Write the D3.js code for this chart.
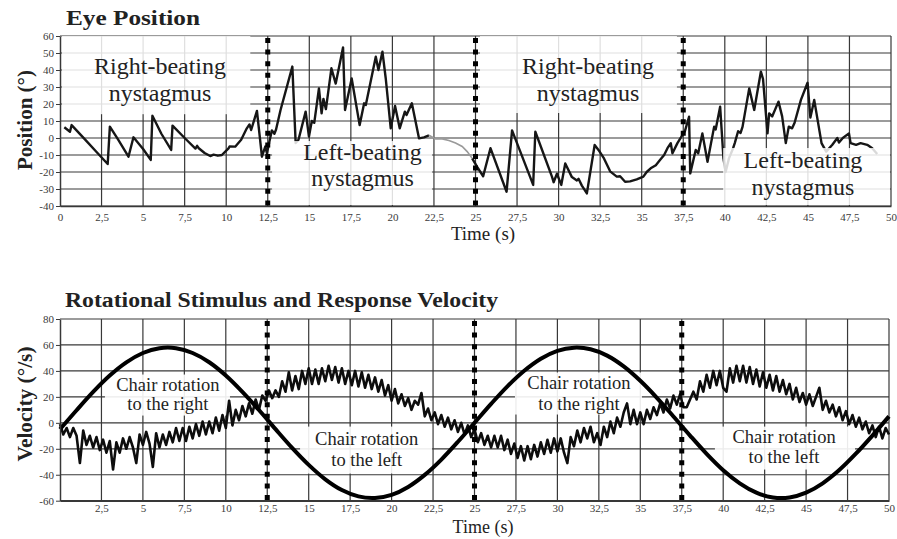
<!DOCTYPE html>
<html><head><meta charset="utf-8">
<script src="https://cdn.jsdelivr.net/npm/d3@7/dist/d3.min.js"></script>
<style>
body{margin:0;background:#fff}
svg{display:block}
text{font-family:"Liberation Serif","DejaVu Serif",serif}
</style>
</head><body>
<svg id="chart" width="897" height="539"></svg>
<script>
// ---------------- DATA ----------------
const timeTicks = [0,2.5,5,7.5,10,12.5,15,17.5,20,22.5,25,27.5,30,32.5,35,37.5,40,42.5,45,47.5,50];
const posTicks = [-40,-30,-20,-10,0,10,20,30,40,50,60];
const velTicks = [-60,-40,-20,0,20,40,60,80];
const phaseBoundaries = [12.5,25,37.5];

// Eye position trace (s, degrees); null = gap
const eyeTime = [0.26,0.6,0.7,1.5,2.2,2.87,3.0,3.5,4.12,4.42,5.0,5.46,5.56,6.1,6.69,6.77,7.5,8.15,8.25,8.35,8.7,9.04,9.24,9.5,9.74,10.14,10.2,10.54,10.9,11.24,11.4,11.5,11.85,12.15,12.35,12.45,12.6,12.75,12.9,13.0,13.27,13.98,14.18,14.35,14.78,14.98,15.15,15.3,15.58,15.74,15.85,16.0,16.33,16.59,17.03,17.15,17.55,18.03,18.3,18.4,19.0,19.16,19.4,19.6,19.9,20.16,20.44,20.75,20.85,21.17,21.6,21.9,22.2,23.5,24.8,25.1,25.46,25.9,26.87,27.2,28.47,28.6,29.6,29.7,29.9,30.16,30.4,30.8,31.1,31.2,31.4,31.7,32.17,32.4,32.73,33.1,33.5,33.7,34.0,34.3,34.7,35.1,35.3,35.54,35.85,36.1,36.35,36.55,36.75,36.85,37.15,37.4,37.6,37.85,37.92,38.25,38.4,38.65,38.96,39.36,39.45,39.72,39.92,40.05,40.25,40.5,40.6,40.8,40.95,41.07,41.47,41.77,42.17,42.3,42.57,42.67,42.85,43.23,43.45,43.67,43.85,44.05,44.2,44.58,44.98,45.15,45.38,45.82,46.1,46.47,46.77,46.87,47.1,47.47,47.57,47.9,48.17,48.57,48.87,49.17];
const eyePos  = [6.3,3.7,7.6,-0.8,-8.2,-15.3,6.7,-1,-11,0.4,-6.5,-12.9,13.1,2.5,-7,7.3,0,-6.2,-4.6,-6.0,-8.8,-10.6,-9.8,-10.4,-10,-6.1,-5,-5.1,-1,5.7,8,4.7,15.9,-11,-5,-9,-2,4.5,2.5,5,16.5,42,-3,-1,15.5,0.8,10,9,29.2,14.5,23,17,41,32,53.3,16.5,35,7.6,20.4,19.4,47.8,40,50.8,35,5.7,18.8,5.7,15.5,13.5,20.4,-0.2,0.4,1.6,null,-12,-17,-22.5,-6,-31.6,4.5,-27.6,3.7,-22.7,-26,-21,-27.6,-15,-23,-25,-24,-28,-32.6,-4.1,-7,-12,-19.6,-22.7,-22.5,-25.7,-25.5,-24.3,-22.7,-20,-17.8,-16,-13,-10,-6,-3.1,-9,-3,1,4,12.5,-20.8,-7,-9,2.7,-14,6.7,5,18.4,-12,-20,-12,-6,-3,4,3,6.7,29.2,16.5,39,34.7,2.7,14.5,12.7,21.4,12.7,-3,6.7,5.7,9,22.4,32.5,12,22.4,-3,-8,-4,0,-2.7,0,2.7,-3,-4,-3,-4,-6,-9.4];
// faint (washed-out) portion of the eye trace
const eyeFaintTime = [22.2,22.6,23.0,23.4,23.8,24.2,24.5,24.8];
const eyeFaintPos  = [1.6,-0.5,-0.5,-1.5,-3,-5,-8,-12];

// Chair (stimulus) velocity, one reading per second
const chairTime = [0,1,2,3,4,5,6,7,8,9,10,11,12,13,14,15,16,17,18,19,20,21,22,23,24,25,26,27,28,29,30,31,32,33,34,35,36,37,38,39,40,41,42,43,44,45,46,47,48,49,50];
const chairVel  = [-5,9.7,23.8,36.4,46.6,53.8,57.5,57.5,53.8,46.7,36.5,23.9,9.9,-4.9,-19.3,-32.4,-43.5,-51.8,-56.7,-57.9,-55.5,-49.4,-40.1,-28.3,-14.6,0,14.6,28.3,40.1,49.4,55.5,57.9,56.7,51.8,43.5,32.4,19.3,4.9,-9.8,-23.9,-36.5,-46.6,-53.8,-57.5,-57.5,-53.8,-46.6,-36.4,-23.8,-9.8,5];

// Eye response velocity, one reading every 0.2 s from 0 to 50 s
const respStep = 0.2;
const respVel = [
-1,-9,-4,-11,-4, -10,-31,-6,-17,-10, -19,-11,-21,-13,-23, -14,-36,-15,-23,-12, -20,-11,-19,-31,-9,
-17,-7,-16,-34,-8, -19,-9,-17,-7,-15, -4,-14,-4,-14,-3, -12,-1,-10,1,-9, 1,-8,4,-6,6,
-4,17,-2,10,2, 13,5,15,7,18, 10,21,17,25,19, 25,20,32,24,39, 25,36,26,40,30,
42,30,41,30,42, 32,44,33,43,31, 42,30,40,29,40, 28,39,27,37,26, 35,24,33,21,29,
17,26,15,22,13, 19,10,17,14,23, 5,11,2,8,-1, 6,-3,4,-5,2, -7,0,-9,-2,-11,
-5,-15,-8,-17,-10, -19,-10,-19,-10,-21, -13,-24,-16,-27,-18, -29,-18,-28,-17,-26, -15,-24,-13,-23,-12,
-22,-12,-23,-31,-11, -18,-6,-15,-4,-12, -3,-15,-8,-17,-3, -11,1,-8,4,-3, 8,15,-1,10,-1,
8,-1,10,3,12, 6,15,8,18,11, 21,14,22,12,12, 18,24,18,32,24, 37,27,40,29,40,
27,24,42,31,44, 32,44,31,43,30, 41,28,39,27,37, 25,36,24,33,22, 30,18,27,16,23,
14,22,13,20,27, 10,17,8,14,5, 12,2,9,-1,6, -3,4,-5,1,-8, -2,-11,-3,-12,-4,
-9];

// ---------------- DRAW ----------------
const svg = d3.select("#chart");
const fmt = d => String(d).replace(".", ",");
const INK = "#161616", GRID = "#383838", TICKC = "#3a3a3a";

function panel(cfg) {
  const x = d3.scaleLinear().domain([0,50]).range([cfg.x0, cfg.x1]);
  const y = d3.scaleLinear().domain(cfg.yDomain).range([cfg.yBottom, cfg.yTop]);
  const g = svg.append("g");
  g.append("g").selectAll("line").data(timeTicks.filter(t => t > 0)).join("line")
    .attr("x1", d => x(d)).attr("x2", d => x(d)).attr("y1", y.range()[0]).attr("y2", y.range()[1])
    .attr("stroke", GRID).attr("stroke-width", 1.2);
  g.append("g").selectAll("line").data(cfg.yTicks).join("line")
    .attr("x1", x(0)).attr("x2", x(50)).attr("y1", d => y(d)).attr("y2", d => y(d))
    .attr("stroke", GRID).attr("stroke-width", 1.2);
  return {x, y, g};
}

function drawAxes(p, cfg) {
  const {x, y, g} = p;
  const ya = g.append("g").attr("transform", `translate(${x(0)},0)`)
    .call(d3.axisLeft(y).tickValues(cfg.yTicks).tickSize(4).tickSizeOuter(0).tickPadding(2).tickFormat(fmt));
  ya.select(".domain").attr("stroke", GRID).attr("stroke-width", 1.5);
  ya.selectAll(".tick line").attr("stroke", TICKC);
  ya.selectAll("text").attr("font-size", 11).attr("fill", TICKC).attr("font-family", "Liberation Serif, serif");
  const xa = g.append("g").attr("transform", `translate(0,${y.range()[0]})`)
    .call(d3.axisBottom(x).tickValues(cfg.xTicks).tickSize(0).tickSizeOuter(0).tickPadding(cfg.xPad).tickFormat(fmt));
  xa.select(".domain").attr("stroke", GRID).attr("stroke-width", 1.5);
  xa.selectAll("text").attr("font-size", 11).attr("fill", TICKC).attr("font-family", "Liberation Serif, serif");
}

function boundaries(p) {
  const {x, y, g} = p;
  g.append("g").selectAll("line").data(phaseBoundaries).join("line")
    .attr("x1", d => x(d)).attr("x2", d => x(d)).attr("y1", y.range()[1] + 2).attr("y2", y.range()[0])
    .attr("stroke", "#000").attr("stroke-width", 5).attr("stroke-dasharray", "5,6.6");
}

function labelBoxes(p, boxes, opacity) {
  const {x, y, g} = p;
  g.append("g").selectAll("rect").data(boxes).join("rect")
    .attr("x", d => x(d.t0)).attr("width", d => x(d.t1) - x(d.t0))
    .attr("y", d => y(d.v0)).attr("height", d => y(d.v1) - y(d.v0))
    .attr("fill", "#fff").attr("fill-opacity", opacity);
}
function labelTexts(p, labels, size) {
  const {x, y, g} = p;
  labels.forEach(l => {
    l.lines.forEach((s, i) => {
      g.append("text").attr("x", x(l.t)).attr("y", y(l.v[i])).attr("text-anchor", "middle")
        .attr("font-size", size).attr("fill", "#222").text(s);
    });
  });
}

// ---- Top panel: Eye Position
const topCfg = {x0: 60, x1: 891, yTop: 36, yBottom: 206, yDomain: [-40, 60], yTicks: posTicks, xTicks: timeTicks, xPad: 7};
const P1 = panel(topCfg);
const eyeLine = d3.line().defined(d => d[1] !== null).x(d => P1.x(d[0])).y(d => P1.y(d[1]));
P1.g.append("path").datum(eyeTime.map((t, i) => [t, eyePos[i]])).attr("d", eyeLine)
  .attr("fill", "none").attr("stroke", INK).attr("stroke-width", 2.4).attr("stroke-linejoin", "round");
P1.g.append("path").datum(eyeFaintTime.map((t, i) => [t, eyeFaintPos[i]])).attr("d", eyeLine)
  .attr("fill", "none").attr("stroke", "#9a9a9a").attr("stroke-width", 1.6);
labelBoxes(P1, [
  {t0: 0.12, t1: 11.45, v0: 60, v1: 14},
  {t0: 12.76, t1: 22.38, v0: -1.8, v1: -39.4},
  {t0: 25.27, t1: 37.12, v0: 60, v1: 14.7},
  {t0: 39.9, t1: 49.94, v0: -5.9, v1: -39.4}
], 0.84);
labelTexts(P1, [
  {t: 6.02, v: [37.6, 21.8], lines: ["Right-beating", "nystagmus"]},
  {t: 18.2, v: [-12.9, -28.4], lines: ["Left-beating", "nystagmus"]},
  {t: 31.77, v: [37.6, 21.8], lines: ["Right-beating", "nystagmus"]},
  {t: 44.7, v: [-17.8, -33.5], lines: ["Left-beating", "nystagmus"]}
], 24);
drawAxes(P1, topCfg);
boundaries(P1);

// ---- Bottom panel: Rotational Stimulus and Response Velocity
const botCfg = {x0: 60, x1: 889, yTop: 319, yBottom: 500.7, yDomain: [-60, 80], yTicks: velTicks, xTicks: timeTicks.filter(t => t > 0), xPad: 4};
const P2 = panel(botCfg);
labelBoxes(P2, [
  {t0: 2.71, t1: 10.25, v0: 37.2, v1: 5.6},
  {t0: 14.48, t1: 22.44, v0: -2.9, v1: -39.1},
  {t0: 27.44, t1: 35.1, v0: 38.8, v1: 6.4},
  {t0: 39.5, t1: 47.95, v0: -2.9, v1: -36}
], 0.9);
labelTexts(P2, [
  {t: 6.51, v: [24.3, 10.2], lines: ["Chair rotation", "to the right"]},
  {t: 18.5, v: [-17.3, -33.4], lines: ["Chair rotation", "to the left"]},
  {t: 31.3, v: [26.4, 10.2], lines: ["Chair rotation", "to the right"]},
  {t: 43.67, v: [-15.4, -30.8], lines: ["Chair rotation", "to the left"]}
], 18.5);
const respLine = d3.line().x((d, i) => P2.x(i * respStep)).y(d => P2.y(d));
P2.g.append("path").datum(respVel).attr("d", respLine)
  .attr("fill", "none").attr("stroke", "#0d0d0d").attr("stroke-width", 2.6).attr("stroke-linejoin", "round");
const chairLine = d3.line().curve(d3.curveCardinal).x(d => P2.x(d[0])).y(d => P2.y(d[1]));
P2.g.append("path").datum(chairTime.map((t, i) => [t, chairVel[i]])).attr("d", chairLine)
  .attr("fill", "none").attr("stroke", "#000").attr("stroke-width", 4);
drawAxes(P2, botCfg);
boundaries(P2);

// ---- Titles and axis labels
svg.append("text").attr("x", 66).attr("y", 25).attr("font-size", 22).attr("font-weight", "bold")
  .attr("fill", "#222").attr("textLength", 134).attr("lengthAdjust", "spacingAndGlyphs").text("Eye Position");
svg.append("text").attr("x", 65).attr("y", 307).attr("font-size", 20).attr("font-weight", "bold")
  .attr("fill", "#222").attr("textLength", 433).attr("lengthAdjust", "spacingAndGlyphs").text("Rotational Stimulus and Response Velocity");
svg.append("text").attr("transform", "translate(32,120) rotate(-90)").attr("text-anchor", "middle")
  .attr("font-size", 20).attr("font-weight", "bold").attr("fill", "#222")
  .attr("textLength", 100).attr("lengthAdjust", "spacingAndGlyphs").text("Position (°)");
svg.append("text").attr("transform", "translate(32,404) rotate(-90)").attr("text-anchor", "middle")
  .attr("font-size", 20).attr("font-weight", "bold").attr("fill", "#222")
  .attr("textLength", 115).attr("lengthAdjust", "spacingAndGlyphs").text("Velocity (°/s)");
svg.append("text").attr("x", 483).attr("y", 240).attr("text-anchor", "middle").attr("font-size", 19)
  .attr("fill", "#222").text("Time (s)");
svg.append("text").attr("x", 483).attr("y", 533).attr("text-anchor", "middle").attr("font-size", 18)
  .attr("fill", "#222").text("Time (s)");
</script>
</body></html>
